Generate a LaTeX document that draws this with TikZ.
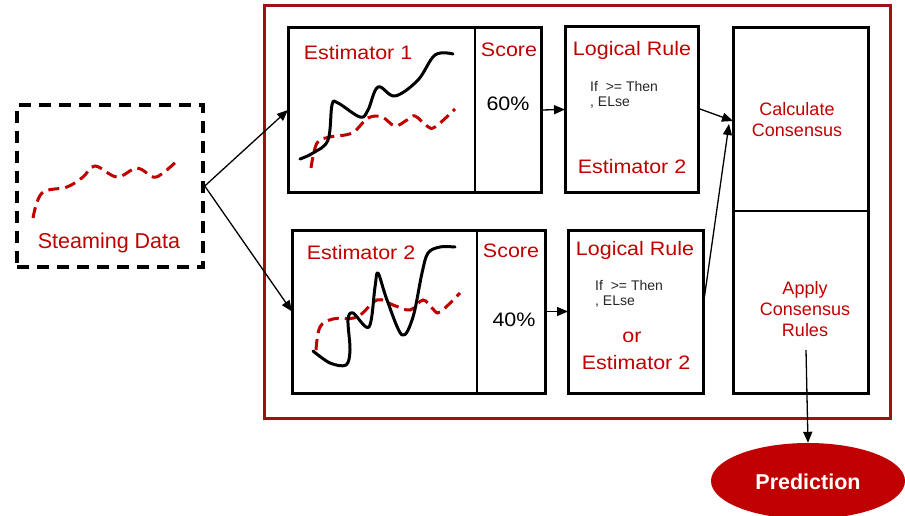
\documentclass[tikz,border=0pt]{standalone}
\usepackage{fontspec}
\setmainfont{Liberation Sans}
\newfontfamily\hfont[FakeStretch=1.1]{Liberation Sans}
\usetikzlibrary{arrows.meta,shapes.geometric}
\definecolor{dred}{HTML}{C00000}
\definecolor{frred}{HTML}{9E1016}
\definecolor{txtgray}{HTML}{262626}
\begin{document}
\begin{tikzpicture}[x=1pt,y=-1pt,
  blkbox/.style={draw=black,line width=3pt,inner sep=0pt,outer sep=0pt},
  framebox/.style={draw=frred,line width=3pt,inner sep=0pt,outer sep=0pt},
  databox/.style={draw=black,line width=3.5pt,dash pattern=on 12pt off 8pt,inner sep=0pt},
  divline/.style={draw=black,line width=1.5pt},
  arr/.style={draw=black,line width=1.3pt,-{Triangle[length=11pt,width=9pt]}},
  head/.style={text=dred,font=\hfont\fontsize{19.5}{22}\selectfont,inner sep=0pt},
  pct/.style={text=black,font=\hfont\fontsize{19.5}{22}\selectfont,inner sep=0pt},
  small/.style={text=txtgray,font=\fontsize{14}{16}\selectfont,inner sep=0pt,anchor=west},
  cons/.style={text=dred,font=\fontsize{18}{22}\selectfont,align=center,inner sep=0pt},
  blackcurve/.style={draw=black,line width=3pt,line cap=round,line join=round},
  redcurve/.style={draw=dred,line width=3pt,dash pattern=on 11pt off 6pt}
]
\clip (0,0) rectangle (905,516);
\fill[white] (0,0) rectangle (905,516);

% outer frame
\node[framebox,minimum width=626pt,minimum height=412pt] (frame) at (577,212) {};

% streaming data box
\node[databox,minimum width=186pt,minimum height=162pt] (data) at (110,186) {};
\draw[redcurve] plot[smooth,tension=0.6] coordinates {(33,218) (42,193) (67,187) (83,177) (95,166) (117,177) (137,168) (153,177) (163,173) (178,160)};
\node[text=dred,font=\fontsize{21.5}{24}\selectfont,inner sep=0pt] (sdtext) at (109,243) {Steaming Data};

% estimator 1 box
\node[blkbox,minimum width=253pt,minimum height=164pt] (e1) at (414.5,110) {};
\coordinate (d1) at (475,0);
\draw[divline] (e1.north -| d1) -- (e1.south -| d1);
\node[head] (e1t) at (358,53) {Estimator 1};
\node[head] (s1t) at (509,50) {Score};
\node[pct] (p1) at (508,104) {60\%};
\draw[redcurve] plot[smooth,tension=0.6] coordinates {(311,168) (317,143) (330,137) (352,133) (368,118) (382,117) (395,126) (407,120) (415,116) (427,126) (435,127) (455,109)};
\draw[blackcurve] plot[smooth,tension=0.6] coordinates {(300,159) (313,153) (328,140) (332,105) (338,103) (360,117) (368,110) (378,87) (395,96) (418,80) (435,55) (453,54)};

% estimator 2 box
\node[blkbox,minimum width=253pt,minimum height=163pt] (e2) at (418.5,311.5) {};
\coordinate (d2) at (477,0);
\draw[divline] (e2.north -| d2) -- (e2.south -| d2);
\node[head] (e2t) at (361,253) {Estimator 2};
\node[head] (s2t) at (511,251) {Score};
\node[pct] (p2) at (514,320) {40\%};
\draw[redcurve] plot[smooth,tension=0.6] coordinates {(316,350) (320,327) (333,319) (357,317) (377,300) (393,305) (410,310) (423,300) (433,309) (440,312) (460,293)};
\draw[blackcurve] plot[smooth,tension=0.55] coordinates {(313,351) (330,363) (346,365) (350,350) (348,320) (353,313) (369,327) (375,287) (378,273) (387,300) (402,335) (413,317) (422,273) (428,253) (440,247) (455,247)};

% logical rule 1
\node[blkbox,minimum width=133pt,minimum height=165pt] (lr1) at (631.5,109.5) {};
\node[head] (lr1t) at (632,50) {Logical Rule};
\node[small] (lr1a) at (590,86) {If\ \ >= Then};
\node[small] (lr1b) at (590,103) {, ELse};
\node[head] (lr1c) at (632,167) {Estimator 2};

% logical rule 2
\node[blkbox,minimum width=135pt,minimum height=163pt] (lr2) at (635.5,311.5) {};
\node[head] (lr2t) at (635,250) {Logical Rule};
\node[small] (lr2a) at (595,285) {If\ \ >= Then};
\node[small] (lr2b) at (595,302) {, ELse};
\node[head] (lr2or) at (632,337) {or};
\node[head] (lr2c) at (636,363) {Estimator 2};

% consensus box
\node[blkbox,minimum width=135pt,minimum height=365pt] (cons) at (800.5,210.5) {};
\coordinate (dc) at (0,211);
\draw[divline] (cons.west |- dc) -- (cons.east |- dc);
\node[cons] (calc) at (797,120) {Calculate\\[-1pt]Consensus};
\node[cons] (apply) at (805,309) {Apply\\[-1pt]Consensus\\[-1pt]Rules};

% prediction
\node[ellipse,fill=dred,minimum width=194pt,minimum height=76pt,inner sep=0pt] (pred) at (808,481) {};
\node[text=white,font=\bfseries\fontsize{21.5}{24}\selectfont] (predt) at (808,482) {Prediction};

% connectors
\draw[arr] (data.east) -- (e1.west);
\draw[arr] (data.east) -- (e2.west);
\draw[arr] (e1.east) -- (lr1.west);
\draw[arr] (e2.east) -- (lr2.west);
\coordinate (c1) at (733,121);
\coordinate (c2) at (729,124);
\coordinate (l1o) at (700,109);
\coordinate (l2o) at (704,300);
\draw[arr] (l1o) -- (c1);
\draw[arr] (l2o) -- (c2);
\coordinate (co) at (806,350);
\draw[arr] (co) -- (pred.north);
\end{tikzpicture}
\end{document}
